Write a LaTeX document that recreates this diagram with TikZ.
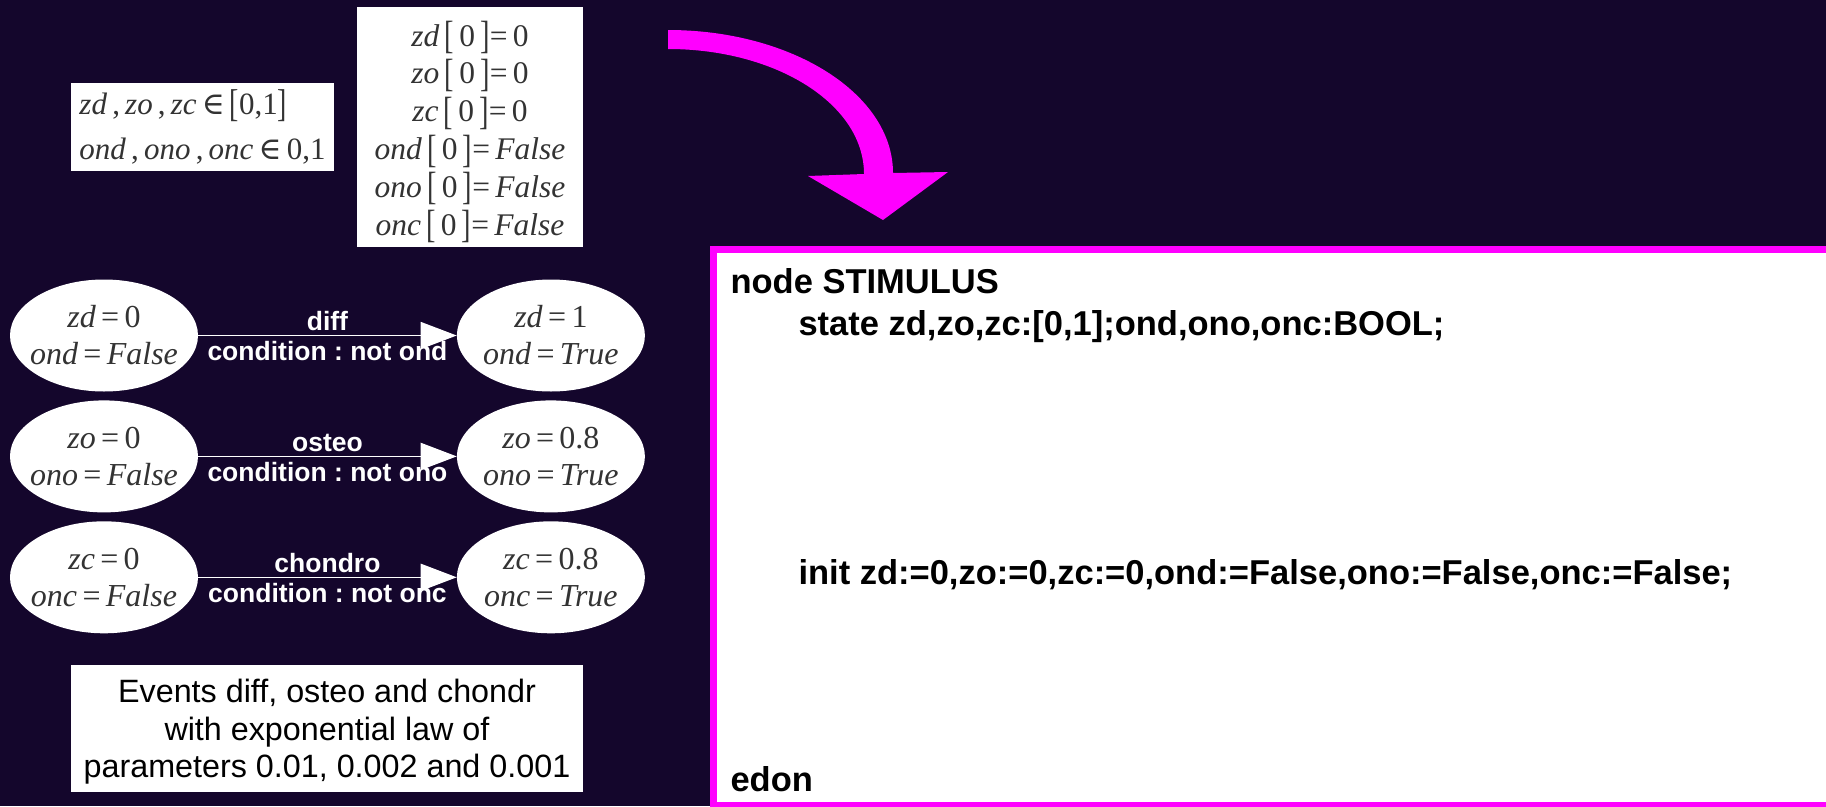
\documentclass[tikz,border=0pt]{standalone}
\usepackage{fontspec}
\setmainfont{Liberation Serif}
\newfontfamily\arialf{Liberation Sans}
\newfontfamily\symf{DejaVu Serif}
\usepackage{graphicx}
\usepackage{xcolor}
\usepackage{tikz}
\usetikzlibrary{positioning, arrows.meta, shapes.geometric}

\definecolor{bgpurple}{RGB}{20,6,44}
\definecolor{pinkline}{RGB}{255,0,255}
\definecolor{mathgray}{RGB}{51,51,51}

\frenchspacing
\newcommand{\mv}[1]{\textit{#1}}
\newcommand{\elem}{\,{\symf ∈}\,}
\newcommand{\lbk}{\raisebox{-0.08em}{\scalebox{0.9}[1.25]{[}}}
\newcommand{\rbk}{\raisebox{-0.08em}{\scalebox{0.9}[1.25]{]}}}

\begin{document}
\begin{tikzpicture}[x=1pt, y=-1pt, >=Stealth,
    state/.style={ellipse, fill=white, minimum width=188pt, minimum height=112pt, inner sep=-10pt, align=center, text=mathgray, font=\fontsize{32}{37}\selectfont},
    whitebox/.style={rectangle, fill=white, inner sep=0pt},
    edge/.style={draw=white, line width=1.5pt, -{Triangle[length=36pt,width=27pt]}},
    evlabel/.style={text=white, font=\arialf\bfseries\fontsize{26.5}{30}\selectfont},
    code/.style={anchor=base west, font=\arialf\bfseries\fontsize{34.5}{40}\selectfont}]

    % Background
    \fill[bgpurple] (0,0) rectangle (1826,806);
    \useasboundingbox (0,0) rectangle (1826,806);

    % Draw boxes
    \node (domain) [whitebox, minimum width=263pt, minimum height=88pt, align=left, text=mathgray, font=\fontsize{31}{45}\selectfont] at (202.5,127) {\mv{zd}\,,\,\mv{zo}\,,\,\mv{zc}\elem\lbk 0,1\rbk\\\mv{ond}\,,\,\mv{ono}\,,\,\mv{onc}\elem 0,1};
    \node (initial) [whitebox, minimum width=226pt, minimum height=240pt, align=center, text=mathgray, font=\fontsize{31.5}{37.8}\selectfont] at (470,127) {\rule{0pt}{35pt}\mv{zd}\,\lbk\,0\,\rbk=\,0\\\mv{zo}\,\lbk\,0\,\rbk=\,0\\\mv{zc}\,\lbk\,0\,\rbk=\,0\\\mv{ond}\,\lbk\,0\,\rbk=\,\mv{False}\\\mv{ono}\,\lbk\,0\,\rbk=\,\mv{False}\\\mv{onc}\,\lbk\,0\,\rbk=\,\mv{False}};
    \node (rates) [whitebox, minimum width=512pt, minimum height=127pt, align=center, font=\arialf\fontsize{32.3}{37.8}\selectfont] at (327,728.5) {\rule{0pt}{30pt}Events diff, osteo and chondr\\with exponential law of\\parameters 0.01, 0.002 and 0.001};

    % Draw ellipses
    \node (d0) [state] at (104,335.5) {\mv{zd}\,=\,0\\\mv{ond}\,=\,\mv{False}};
    \node (d1) [state, right=258.5pt of d0] {\mv{zd}\,=\,1\\\mv{ond}\,=\,\mv{True}};
    \node (o0) [state, below=8.5pt of d0] {\mv{zo}\,=\,0\\\mv{ono}\,=\,\mv{False}};
    \node (o1) [state, right=258.5pt of o0] {\mv{zo}\,=\,0.8\\\mv{ono}\,=\,\mv{True}};
    \node (c0) [state, below=8.5pt of o0] {\mv{zc}\,=\,0\\\mv{onc}\,=\,\mv{False}};
    \node (c1) [state, right=258.5pt of c0] {\mv{zc}\,=\,0.8\\\mv{onc}\,=\,\mv{True}};

    % Draw arrows
    \draw[edge] (d0) -- node[evlabel, above, inner sep=4pt] {diff} node[evlabel, below, inner sep=5pt] {condition : not ond} (d1);
    \draw[edge] (o0) -- node[evlabel, above, inner sep=4pt] {osteo} node[evlabel, below, inner sep=5pt] {condition : not ono} (o1);
    \draw[edge] (c0) -- node[evlabel, above, inner sep=4pt] {chondro} node[evlabel, below, inner sep=5pt] {condition : not onc} (c1);

    % Code panel
    \draw[pinkline, line width=7pt, fill=white] (713.5,249.5) rectangle (1840,805.5);
    \node (hdr) [code] at (727,293) {node STIMULUS};
    \node (stt) [code] at (795,335) {state zd,zo,zc:[0,1];ond,ono,onc:BOOL;};
    \node (ini) [code] at (795,584) {init zd:=0,zo:=0,zc:=0,ond:=False,ono:=False,onc:=False;};
    \node (edn) [code] at (727,791) {edon};

    % Big bent arrow
    \coordinate (bendS) at (668,30);
    \coordinate (bendE) at (883,220);
    \fill[pinkline] (bendS) .. controls (792,30) and (893,94) .. (893,173)
        -- (948,172) -- (bendE) -- (808,176) -- (864,174)
        .. controls (864,104) and (776,49) .. (668,49) -- cycle;

\end{tikzpicture}
\end{document}
